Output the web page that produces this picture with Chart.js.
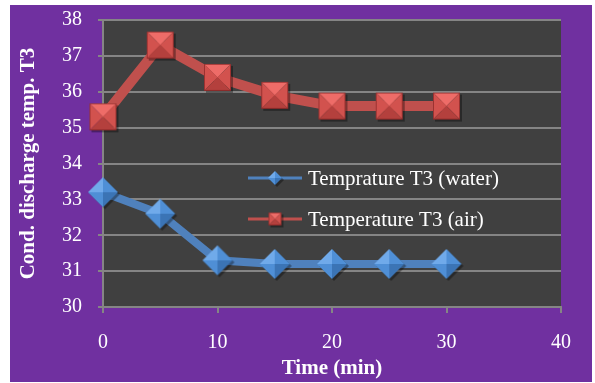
<!DOCTYPE html>
<html>
<head>
<meta charset="utf-8">
<script src="https://cdn.jsdelivr.net/npm/chart.js@4"></script>
<style>
  html, body { margin: 0; padding: 0; background: #fff; }
  #wrap { position: absolute; left: 10px; top: 5px; width: 582px; height: 377px; }
</style>
</head>
<body>
<div id="wrap"><canvas id="chart"></canvas></div>
<script>
const times = [0, 5, 10, 15, 20, 25, 30];
const waterTemp = [33.2, 32.6, 31.3, 31.2, 31.2, 31.2, 31.2];
const airTemp = [35.3, 37.3, 36.4, 35.9, 35.6, 35.6, 35.6];
const seriesLabels = ["Temprature T3 (water)", "Temperature T3 (air)"];

const PURPLE = "#7030A0";
const PLOT_BG = "#404040";
const GRID = "#858585";
const BLUE = "#4F81BD";
const RED = "#C0504D";

// beveled square marker (pyramid look)
function squareMarker(side, base, light, dark) {
  const c = document.createElement("canvas");
  const pad = 3;
  c.width = c.height = side + pad * 2;
  const g = c.getContext("2d");
  const x0 = pad, y0 = pad, x1 = pad + side, y1 = pad + side;
  const cx = pad + side / 2, cy = pad + side / 2;
  g.fillStyle = "rgba(0,0,0,0.35)";
  g.fillRect(x0 + 2, y0 + 2, side, side);
  const tri = (a, b, col) => {
    g.beginPath();
    g.moveTo(a[0], a[1]);
    g.lineTo(b[0], b[1]);
    g.lineTo(cx, cy);
    g.closePath();
    g.fillStyle = col;
    g.fill();
  };
  tri([x0, y0], [x1, y0], light);
  tri([x0, y0], [x0, y1], base);
  tri([x1, y0], [x1, y1], base);
  tri([x0, y1], [x1, y1], dark);
  g.strokeStyle = "rgba(120,30,30,0.6)";
  g.lineWidth = 1;
  g.strokeRect(x0 + 0.5, y0 + 0.5, side - 1, side - 1);
  return c;
}

// beveled diamond marker
function diamondMarker(r, base, light, dark) {
  const c = document.createElement("canvas");
  const pad = 3;
  c.width = c.height = r * 2 + pad * 2;
  const g = c.getContext("2d");
  const cx = pad + r, cy = pad + r;
  const top = [cx, cy - r], right = [cx + r, cy], bottom = [cx, cy + r], left = [cx - r, cy];
  g.fillStyle = "rgba(0,0,0,0.35)";
  g.beginPath();
  g.moveTo(top[0] + 2, top[1] + 2); g.lineTo(right[0] + 2, right[1] + 2);
  g.lineTo(bottom[0] + 2, bottom[1] + 2); g.lineTo(left[0] + 2, left[1] + 2);
  g.closePath(); g.fill();
  const tri = (a, b, col) => {
    g.beginPath();
    g.moveTo(a[0], a[1]);
    g.lineTo(b[0], b[1]);
    g.lineTo(cx, cy);
    g.closePath();
    g.fillStyle = col;
    g.fill();
  };
  tri(left, top, light);
  tri(top, right, base);
  tri(left, bottom, base);
  tri(bottom, right, dark);
  return c;
}

const redBig = squareMarker(27, "#D2524E", "#EE6C68", "#B4403D");
const blueBig = diamondMarker(15, "#4F8FD6", "#70AAEA", "#3B74B5");
const redSmall = squareMarker(13, "#D2524E", "#EE6C68", "#B4403D");
const blueSmall = diamondMarker(7, "#4F8FD6", "#70AAEA", "#3B74B5");

const backgrounds = {
  id: "backgrounds",
  beforeDraw(chart) {
    const { ctx, chartArea: a } = chart;
    ctx.save();
    ctx.fillStyle = PURPLE;
    ctx.fillRect(0, 0, chart.width, chart.height);
    ctx.fillStyle = PLOT_BG;
    ctx.fillRect(a.left, a.top, a.right - a.left, a.bottom - a.top);
    ctx.restore();
  }
};

// legend drawn over the plot, no box
const insideLegend = {
  id: "insideLegend",
  afterDraw(chart) {
    const { ctx, chartArea: a } = chart;
    const icons = [blueSmall, redSmall];
    const x0 = a.left + 145;
    ctx.save();
    ctx.font = "21px 'Liberation Serif'";
    ctx.textBaseline = "middle";
    ctx.textAlign = "left";
    chart.data.datasets.forEach((ds, i) => {
      const y = a.top + 158 + i * 41;
      ctx.strokeStyle = ds.borderColor;
      ctx.lineWidth = 3;
      ctx.beginPath();
      ctx.moveTo(x0, y);
      ctx.lineTo(x0 + 54, y);
      ctx.stroke();
      const img = icons[i];
      ctx.drawImage(img, x0 + 27 - img.width / 2, y - img.height / 2);
      ctx.fillStyle = "#ffffff";
      ctx.fillText(ds.label, x0 + 60, y + 1);
    });
    ctx.restore();
  }
};

new Chart(document.getElementById("chart"), {
  type: "line",
  data: {
    datasets: [
      {
        label: seriesLabels[0],
        data: times.map((t, i) => ({ x: t, y: waterTemp[i] })),
        borderColor: BLUE,
        borderWidth: 8,
        pointStyle: blueBig,
        tension: 0,
        clip: false,
      },
      {
        label: seriesLabels[1],
        data: times.map((t, i) => ({ x: t, y: airTemp[i] })),
        borderColor: RED,
        borderWidth: 10,
        pointStyle: redBig,
        tension: 0,
        clip: false,
      },
    ],
  },
  options: {
    responsive: true,
    maintainAspectRatio: false,
    animation: false,
    layout: { padding: { left: 0, right: 31, top: 15, bottom: 0 } },
    plugins: {
      legend: { display: false },
      tooltip: { enabled: false },
    },
    scales: {
      x: {
        type: "linear",
        min: 0,
        max: 40,
        ticks: {
          stepSize: 10,
          color: "#ffffff",
          padding: 18,
          font: { family: "'Liberation Serif'", size: 20 },
        },
        grid: { drawOnChartArea: false, color: GRID, tickLength: 6, lineWidth: 2 },
        border: { color: GRID, width: 2 },
        title: {
          display: true,
          text: "Time (min)",
          color: "#ffffff",
          padding: { top: 0, bottom: 1 },
          font: { family: "'Liberation Serif'", size: 21, weight: "bold" },
        },
        afterFit: (scale) => { scale.height = 75; },
      },
      y: {
        min: 30,
        max: 38,
        ticks: {
          stepSize: 1,
          color: "#ffffff",
          padding: 16,
          font: { family: "'Liberation Serif'", size: 20 },
        },
        grid: { color: GRID, tickLength: 5, lineWidth: 2 },
        border: { color: GRID, width: 2 },
        title: {
          display: true,
          text: "Cond. discharge temp. T3",
          color: "#ffffff",
          padding: { top: 6, bottom: 0 },
          font: { family: "'Liberation Serif'", size: 21, weight: "bold" },
        },
        afterFit: (scale) => {
          scale.width = 93;
          // keep the top label overhang from pushing the plot down
          scale.paddingTop = 12;
          scale.paddingBottom = 12;
        },
      },
    },
  },
  plugins: [backgrounds, insideLegend],
});
</script>
</body>
</html>
